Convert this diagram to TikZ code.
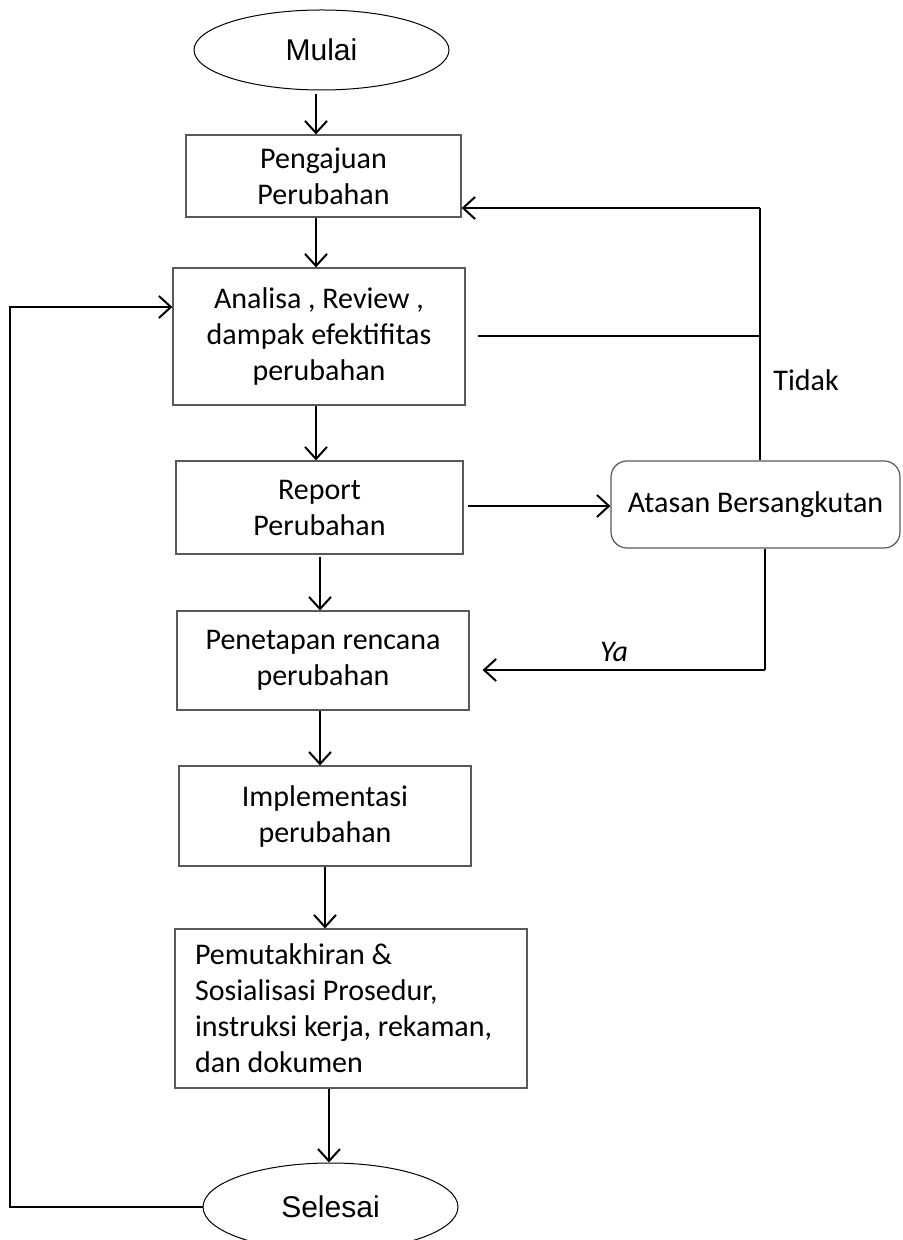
\documentclass[tikz,border=0pt]{standalone}
\usepackage{fontspec}
\setmainfont{Carlito}
\newfontfamily\arialfont{Liberation Sans}
\usetikzlibrary{shapes.geometric,arrows.meta}

\begin{document}
\begin{tikzpicture}[x=0.5pt,y=-0.5pt,
	font=\fontsize{15}{18}\selectfont,
	box/.style={draw=black!65,line width=0.6pt,align=center,inner sep=0pt},
	term/.style={draw,ellipse,line width=0.5pt,inner sep=0pt,minimum width=127.5pt,minimum height=40pt,font=\arialfont\fontsize{15}{16}\selectfont},
	flow/.style={line width=1pt},
	arr/.style={flow,-{Straight Barb[length=6pt,width=11pt,line width=1pt]}}]
	\useasboundingbox (0,0) rectangle (902,1240);
	\node[term] (mulai) at (321.5,50) {Mulai};
	\node[box,minimum width=137.5pt,minimum height=41pt] (aju) at (323.5,176) {Pengajuan\\Perubahan};
	\node[box,minimum width=146pt,minimum height=68.5pt] (analisa) at (319,336.5) {Analisa , Review ,\\dampak efektifitas\\perubahan};
	\node[box,minimum width=143.5pt,minimum height=46.5pt] (report) at (319.5,507.5) {Report\\Perubahan};
	\node[box,minimum width=146pt,minimum height=49.5pt] (tetap) at (323,660.5) {Penetapan rencana\\perubahan};
	\node[box,minimum width=146pt,minimum height=50pt] (impl) at (325,816) {Implementasi\\perubahan};
	\node[box,align=flush left,text width=156pt,inner xsep=10pt,minimum height=79.5pt] (mutakhir) at (351,1008.5) {Pemutakhiran \&\\Sosialisasi Prosedur,\\instruksi kerja, rekaman,\\dan dokumen};
	\node[term,minimum height=44pt] (selesai) at (330.5,1207) {Selesai};
	\node[box,rounded corners=8pt,minimum width=144.5pt,minimum height=43.5pt] (atasan) at (755.5,504.5) {Atasan Bersangkutan};
	\node[anchor=west,inner xsep=0pt] (tidak) at (773,380) {Tidak};
	\node (ya) at (614,652) {\itshape Ya};
	\coordinate (tk) at (760,208);
	\coordinate (yk) at (765,670);
	\coordinate (lp) at (10,307);

	\draw[arr,shorten <=2pt] (mulai.south -| 316,0) -- (316,0 |- aju.north);
	\draw[arr] (aju.south -| 316,0) -- (316,0 |- analisa.north);
	\draw[arr] (analisa.south -| 316,0) -- (316,0 |- report.north);
	\draw[arr,shorten <=1pt] (report.south -| 320,0) -- (320,0 |- tetap.north);
	\draw[arr] (tetap.south -| 320,0) -- (320,0 |- impl.north);
	\draw[arr] (impl.south -| 325,0) -- (325,0 |- mutakhir.north);
	\draw[arr] (mutakhir.south -| 329,0) -- (329,0 |- selesai.north);
	\draw[arr,shorten <=2pt] (report.east |- 0,506) -- (atasan.west |- 0,506);
	\draw[flow] (atasan.north -| tk) -- (tk);
	\draw[arr] (tk) -- (tk -| aju.east);
	\draw[flow,shorten <=6pt] (analisa.east) -- (analisa.east -| tk);
	\draw[flow] (atasan.south -| yk) -- (yk);
	\draw[arr,shorten >=6.5pt] (yk) -- (yk -| tetap.east);
	\draw[arr] (selesai.west) -| (lp) -- (lp -| analisa.west);
\end{tikzpicture}
\end{document}
